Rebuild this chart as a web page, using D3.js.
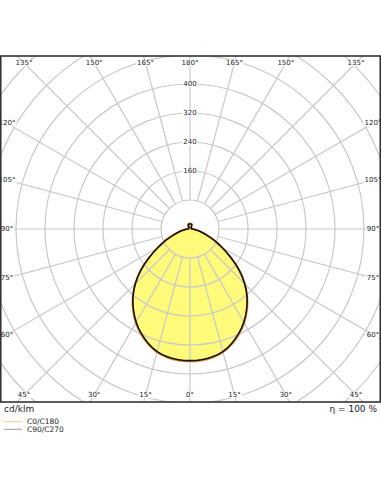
<!DOCTYPE html>
<html><head><meta charset="utf-8">
<script src="https://cdn.jsdelivr.net/npm/d3@7"></script>
<style>
html,body{margin:0;padding:0;background:#fff;}
svg{display:block;font-family:"DejaVu Sans",sans-serif;}
</style></head>
<body><svg id="c" width="381" height="492"></svg>
<script>
// ---- data ----
const gammaAngles = d3.range(0, 181, 5);
const c0c180 = [365,364,360,352,338,320,299,274,246,214,178,139,103,74,50,33,21,13,9,5,5,5,5,5,5,5,5,5,5,6,8,12,14,15,15,15,15];
const c90c270 = [363,362,358,350,336,318,297,272,245,213,177,138,102,73,49,32,20,12,8,4,4,4,4,4,4,4,4,4,4,5,7,11,13,14,14,14,14];
const ringValues = [80,160,240,320,400,480,560,640,720];
const ringLabels = [160,240,320,400];
const spokeAngles = d3.range(0, 360, 15);
const angleLabelValues = d3.range(0, 181, 15);
const legendItems = ["C0/C180","C90/C270"];
const unitText = "cd/klm";
const effText = "η = 100 %";

// ---- layout ----
const svg = d3.select("#c");
const frame = {x0:1, y0:56, x1:380, y1:402};
const cx = 190, cy = 229;
const r = d3.scaleLinear().domain([0,400]).range([0,145]);
const gridColor = "#c9c9c9";

svg.append("defs").append("clipPath").attr("id","fc")
  .append("rect").attr("x",frame.x0).attr("y",frame.y0)
  .attr("width",frame.x1-frame.x0).attr("height",frame.y1-frame.y0);

const g = svg.append("g").attr("clip-path","url(#fc)");
const plot = g.append("g").attr("transform",`translate(${cx},${cy})`);

// convert gamma (0 = down) to d3 radial angle (0 = up, clockwise)
function buildPoints(vals){
  const pts = [];
  gammaAngles.forEach((a,i)=> pts.push([Math.PI - a*Math.PI/180, r(vals[i])]));
  for(let i=gammaAngles.length-2;i>=1;i--) pts.push([Math.PI + gammaAngles[i]*Math.PI/180, r(vals[i])]);
  return pts;
}
const radial = d3.lineRadial().angle(d=>d[0]).radius(d=>d[1]).curve(d3.curveCatmullRomClosed);

// fill
plot.append("path").attr("d", radial(buildPoints(c90c270))).attr("fill","#fffb7a").attr("stroke","none");

// grid
plot.selectAll("circle.ring").data(ringValues).join("circle")
  .attr("r", d=>r(d)).attr("fill","none").attr("stroke",gridColor).attr("stroke-width",1.2);
plot.selectAll("line.spoke").data(spokeAngles).join("line")
  .attr("x1", d=>r(80)*Math.sin(d*Math.PI/180)).attr("y1", d=>r(80)*Math.cos(d*Math.PI/180))
  .attr("x2", d=>r(900)*Math.sin(d*Math.PI/180)).attr("y2", d=>r(900)*Math.cos(d*Math.PI/180))
  .attr("stroke",gridColor).attr("stroke-width",1.2);

// curves
plot.append("path").attr("d", radial(buildPoints(c0c180))).attr("fill","none").attr("stroke","#e8902a").attr("stroke-width",2);
plot.append("path").attr("d", radial(buildPoints(c90c270))).attr("fill","none").attr("stroke","#111").attr("stroke-width",1.6);

// labels with white background
function label(parent, x, y, txt, size){
  const gg = parent.append("g");
  const t = gg.append("text").attr("x",x).attr("y",y).attr("text-anchor","middle")
    .attr("dominant-baseline","central").attr("font-size",size).attr("fill","#222").text(txt);
  const b = t.node().getBBox();
  gg.insert("rect","text").attr("x",b.x-1).attr("y",b.y+1).attr("width",b.width+2).attr("height",b.height-2).attr("fill","#fff");
}
ringLabels.forEach(v=> label(g, cx, cy - r(v), String(v), 7));

const inset = {x0:7, y0:63, x1:373, y1:395};
function edgePoint(gdeg, side){
  const a = gdeg*Math.PI/180;
  const dx = side*Math.sin(a), dy = Math.cos(a);
  let t = Infinity;
  if(dx>1e-9) t=Math.min(t,(inset.x1-cx)/dx);
  if(dx<-1e-9) t=Math.min(t,(inset.x0-cx)/dx);
  if(dy>1e-9) t=Math.min(t,(inset.y1-cy)/dy);
  if(dy<-1e-9) t=Math.min(t,(inset.y0-cy)/dy);
  return [cx+dx*t, cy+dy*t];
}
angleLabelValues.forEach(a=>{
  const sides = (a===0||a===180)?[1]:[-1,1];
  sides.forEach(s=>{ const p=edgePoint(a,s); label(svg, p[0], p[1], a+"°", 7); });
});

// frame
svg.append("rect").attr("x",frame.x0-0.25).attr("y",frame.y0).attr("width",frame.x1-frame.x0+0.5).attr("height",frame.y1-frame.y0)
  .attr("fill","none").attr("stroke","#333").attr("stroke-width",1.6);

// footer texts
svg.append("text").attr("x",4).attr("y",408.5).attr("dominant-baseline","central").attr("font-size",9).attr("fill","#222").text(unitText);
svg.append("text").attr("x",377).attr("y",408.5).attr("text-anchor","end").attr("dominant-baseline","central").attr("font-size",9).attr("fill","#222").text(effText);

// legend
const legColors = ["#f6c990","#9a9a9a"];
legendItems.forEach((txt,i)=>{
  const y = 421.7 + i*7.6;
  svg.append("line").attr("x1",4).attr("x2",22).attr("y1",y).attr("y2",y).attr("stroke",legColors[i]).attr("stroke-width",1);
  svg.append("text").attr("x",27).attr("y",y).attr("dominant-baseline","central").attr("font-size",7.5).attr("fill","#222").text(txt);
});
</script></body></html>
